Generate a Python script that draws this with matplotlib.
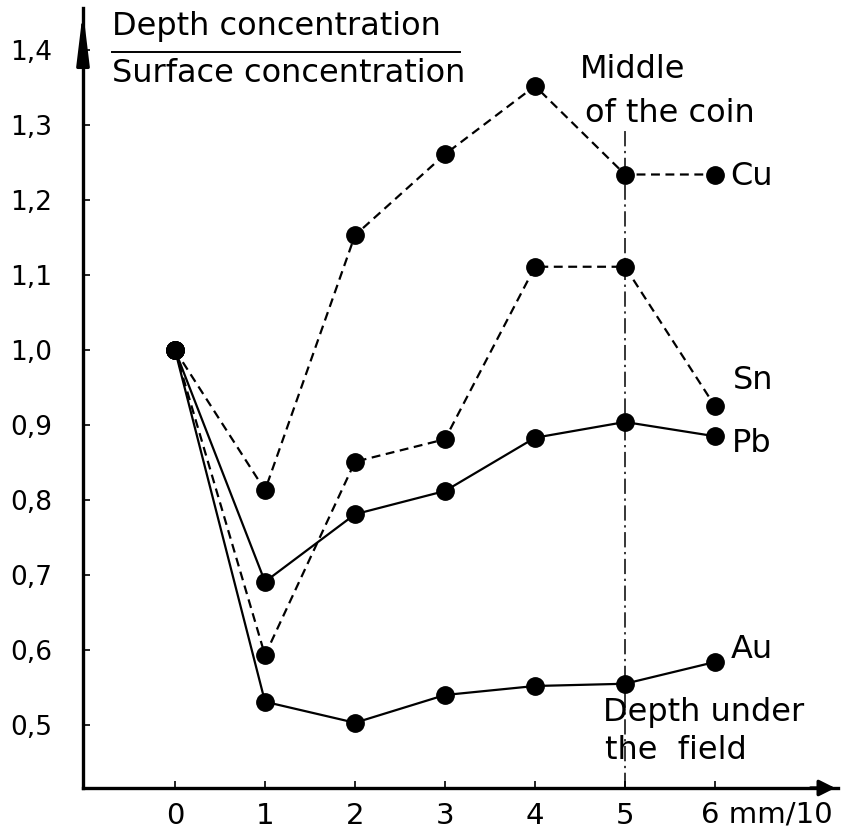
import matplotlib
matplotlib.use("Agg")
import matplotlib.pyplot as plt

depth = [0, 1, 2, 3, 4, 5, 6]
cu = [1.0, 0.813, 1.153, 1.261, 1.352, 1.234, 1.234]
sn = [1.0, 0.593, 0.851, 0.881, 1.111, 1.111, 0.925]
pb = [1.0, 0.691, 0.781, 0.812, 0.883, 0.904, 0.885]
au = [1.0, 0.531, 0.503, 0.540, 0.552, 0.555, 0.584]
yticks = [0.5, 0.6, 0.7, 0.8, 0.9, 1.0, 1.1, 1.2, 1.3, 1.4]
ytick_labels = ["0,5", "0,6", "0,7", "0,8", "0,9", "1,0", "1,1", "1,2", "1,3", "1,4"]
xticks = [0, 1, 2, 3, 4, 5]
xtick_labels = ["0", "1", "2", "3", "4", "5"]

plt.rcParams['font.family'] = ['DejaVu Sans']
W, H = 844, 839
fig = plt.figure(figsize=(W/100, H/100), dpi=100)
left_px, right_px, bottom_px, top_px = 83, 838, 788, 8
ax = fig.add_axes([left_px/W, (H-bottom_px)/H, (right_px-left_px)/W, (bottom_px-top_px)/H])
ax.set_xlim((left_px-175)/90, (right_px-175)/90)
ax.set_ylim(1 + (350-bottom_px)/750, 1 + (350-top_px)/750)
for s in ['top', 'right']:
    ax.spines[s].set_visible(False)
ax.spines['left'].set_linewidth(2.4)
ax.spines['bottom'].set_linewidth(2.4)

ax.set_yticks(yticks)
ax.set_yticklabels(ytick_labels)
ax.set_xticks(xticks + [6])
ax.set_xticklabels(xtick_labels + [""])
ax.tick_params(axis='both', direction='in', length=5, width=1.2, labelsize=21)
ax.tick_params(axis='y', pad=22, labelsize=19)
ax.tick_params(axis='x', pad=10)
ax.text(6 - 0.16, -0.0155, "6 mm/10", transform=ax.get_xaxis_transform(),
        ha='left', va='top', fontsize=21)

# arrows
ax.annotate("", xy=(1.0, 0), xytext=(0.96, 0), xycoords='axes fraction',
            arrowprops=dict(arrowstyle='-|>', color='black', lw=2.4, mutation_scale=24))
ax.annotate("", xy=(0, 1.0), xytext=(0, 0.93), xycoords='axes fraction',
            arrowprops=dict(arrowstyle='-|>,head_length=1.4,head_width=0.17', color='black', lw=2.4, mutation_scale=22))

ms = 12.5
lw = 1.6
ax.plot(depth, cu, color='black', lw=lw, marker='o', ms=ms, dashes=(4, 2.5), clip_on=False)
ax.plot(depth, sn, color='black', lw=lw, marker='o', ms=ms, dashes=(4, 2.5), clip_on=False)
ax.plot(depth, pb, '-', color='black', lw=lw, marker='o', ms=ms, clip_on=False)
ax.plot(depth, au, '-', color='black', lw=lw, marker='o', ms=ms, clip_on=False)

ax.plot([5, 5], [ax.get_ylim()[0], 1.296], color='black', lw=1.1, dashes=(10, 3, 1.5, 3))

fs = 23
ax.text(6.17, 1.232, "Cu", fontsize=fs, va='center', ha='left')
ax.text(6.2, 0.96, "Sn", fontsize=fs, va='center', ha='left')
ax.text(6.19, 0.875, "Pb", fontsize=fs, va='center', ha='left')
ax.text(6.18, 0.600, "Au", fontsize=fs, va='center', ha='left')
ax.text(4.5, 1.374, "Middle", fontsize=fs, va='center', ha='left')
ax.text(4.556, 1.315, "of the coin", fontsize=fs, va='center', ha='left')
ax.text(4.756, 0.516, "Depth under", fontsize=fs, va='center', ha='left')
ax.text(4.78, 0.466, "the  field", fontsize=fs, va='center', ha='left')

ax.text(-0.7, 1.432, "Depth concentration", fontsize=fs, va='center', ha='left')
ax.plot([-0.7, 3.17], [1.397, 1.397], color='black', lw=1.4, clip_on=False)
ax.text(-0.7, 1.368, "Surface concentration", fontsize=fs, va='center', ha='left')

fig.savefig("out.png", dpi=100)
